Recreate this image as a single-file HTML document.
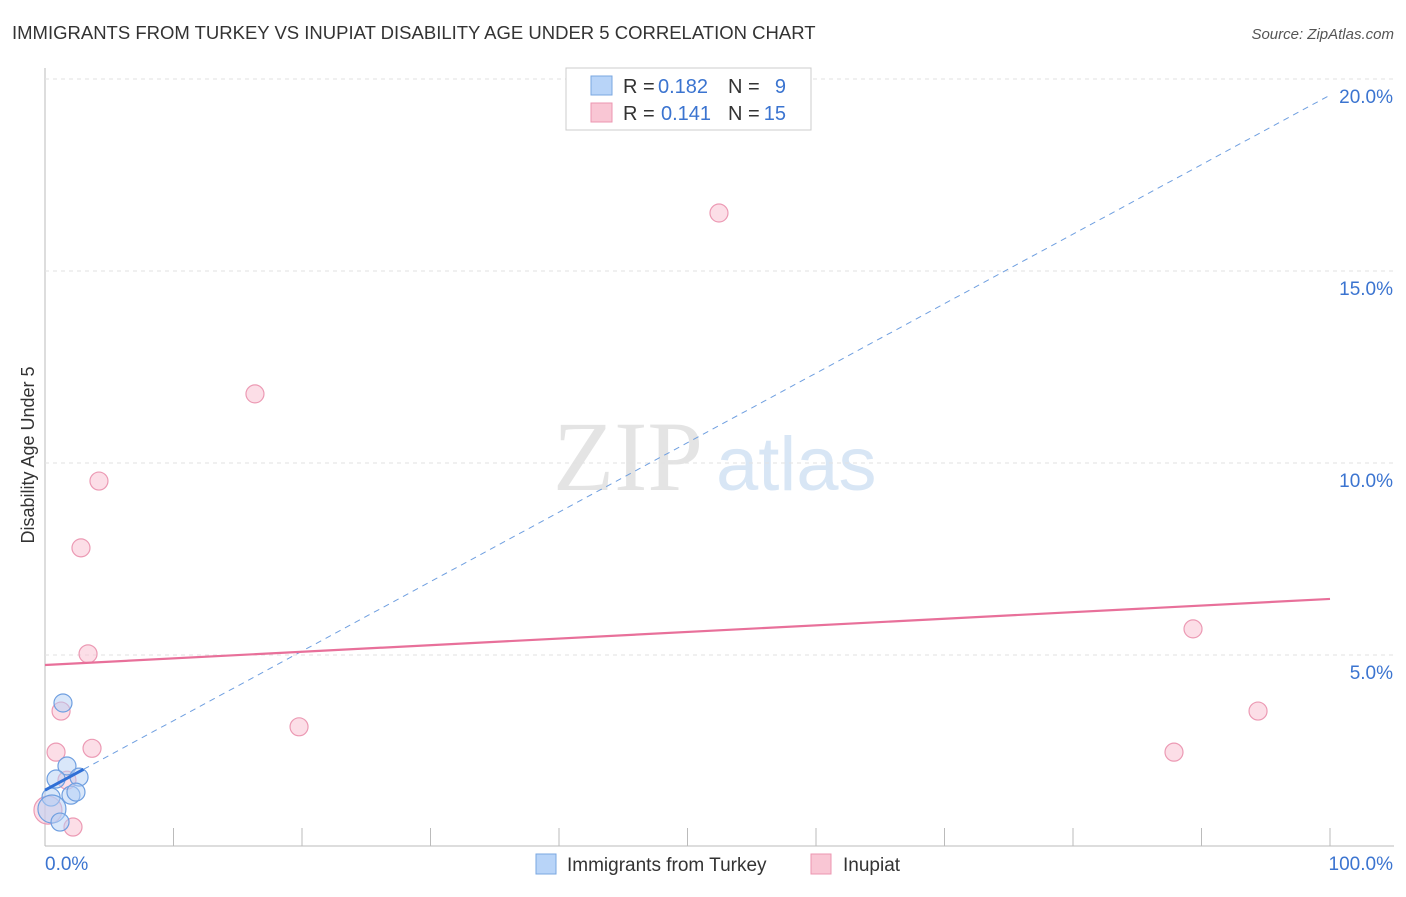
<!DOCTYPE html>
<html><head><meta charset="utf-8"><style>
body{margin:0;background:#fff;font-family:"Liberation Sans",sans-serif}
</style></head><body>
<svg id="c" width="1406" height="892">
<text x="12" y="39" font-size="18.5" fill="#333">IMMIGRANTS FROM TURKEY VS INUPIAT DISABILITY AGE UNDER 5 CORRELATION CHART</text>
<text x="1394" y="39" font-size="15" fill="#555" font-style="italic" text-anchor="end">Source: ZipAtlas.com</text>
<text x="553" y="490" font-size="100" fill="#e4e4e4" font-family="Liberation Serif">ZIP</text>
<text x="716" y="490" font-size="76" fill="#d8e6f5">atlas</text>
<text transform="translate(34,455) rotate(-90)" font-size="18" fill="#333" text-anchor="middle">Disability Age Under 5</text>
<g id="grid"></g><g id="marks"></g>
<g>
<rect x="566" y="68" width="245" height="62" fill="#fff" stroke="#ccc"/>
<rect x="591" y="76" width="21" height="19" fill="#b8d4f8" stroke="#7aa7e0"/>
<rect x="591" y="103" width="21" height="19" fill="#f9c6d4" stroke="#ec96b0"/>
<text x="623" y="93" font-size="20" fill="#333">R =</text>
<text x="658" y="93" font-size="20" fill="#3b74d0">0.182</text>
<text x="728" y="93" font-size="20" fill="#333">N =</text>
<text x="786" y="93" font-size="20" fill="#3b74d0" text-anchor="end">9</text>
<text x="623" y="120" font-size="20" fill="#333">R =</text>
<text x="661" y="120" font-size="20" fill="#3b74d0">0.141</text>
<text x="728" y="120" font-size="20" fill="#333">N =</text>
<text x="786" y="120" font-size="20" fill="#3b74d0" text-anchor="end">15</text>
</g>
<g>
<rect x="536" y="854" width="20" height="20" fill="#b8d4f8" stroke="#7aa7e0"/>
<text x="567" y="871" font-size="19" fill="#333">Immigrants from Turkey</text>
<rect x="811" y="854" width="20" height="20" fill="#f9c6d4" stroke="#ec96b0"/>
<text x="843" y="871" font-size="19" fill="#333">Inupiat</text>
</g>
</svg>
<script>
const yTicks=[5,10,15,20];
const xTickLabels=["0.0%","100.0%"];
const blueX=[1.4,1.71,0.86,2.65,2.02,2.41,0.47,0.54,1.17];
const blueY=[3.75,2.11,1.77,1.82,1.35,1.43,1.30,0.99,0.65];
const blueR=[9,9,9,9,9,9,9,14,9];
const pinkX=[52.45,16.34,4.2,2.8,3.35,1.25,0.86,3.66,19.77,1.71,2.18,89.34,94.4,87.86,0.23];
const pinkY=[16.51,11.8,9.53,7.79,5.03,3.54,2.47,2.57,3.13,1.74,0.52,5.68,3.54,2.47,0.96];
const pinkR=[9,9,9,9,9,9,9,9,9,9,9,9,9,9,14];
const blueTrend=[1.48,19.58];
const pinkTrend=[4.74,6.46];
const sx=v=>45+v*12.85, sy=v=>847-v*38.4;
const NS="http://www.w3.org/2000/svg";
function mk(p,t,a){const e=document.createElementNS(NS,t);for(const k in a)e.setAttribute(k,a[k]);p.appendChild(e);return e;}
const g=document.getElementById('grid'),m=document.getElementById('marks');
let ax=mk(g,'line',{x1:45,y1:68,x2:45,y2:846,stroke:'#bbb'});


let bx=mk(g,'line',{x1:45,y1:846,x2:1394,y2:846,stroke:'#bbb'});


for(let i=1;i<=10;i++){const t=mk(g,'line',{x1:sx(i*10),y1:828,x2:sx(i*10),y2:846,stroke:'#bbb'});

}
yTicks.forEach(v=>{const l=mk(g,'line',{x1:45,y1:sy(v),x2:1394,y2:sy(v),stroke:'#e2e2e2','stroke-dasharray':'4,4'});


const t=mk(g,'text',{x:1393,y:sy(v)+24,'font-size':19,fill:'#3b74d0','text-anchor':'end'});t.textContent=v.toFixed(1)+'%';

});
xTickLabels.forEach((s,i)=>{const t=mk(g,'text',{x:i?1393:45,y:870,'font-size':19,fill:'#3b74d0','text-anchor':i?'end':'start'});t.textContent=s;

});
pinkX.forEach((x,i)=>{const c=mk(m,'circle',{cx:sx(x),cy:sy(pinkY[i]),r:pinkR[i],fill:'rgba(249,190,208,0.5)',stroke:'#ec9ab4','stroke-width':1.2});

});
blueX.forEach((x,i)=>{const c=mk(m,'circle',{cx:sx(x),cy:sy(blueY[i]),r:blueR[i],fill:'rgba(180,208,245,0.5)',stroke:'#6f9fe0','stroke-width':1.2});

});
let d=mk(m,'line',{x1:sx(0),y1:sy(blueTrend[0]),x2:sx(100),y2:sy(blueTrend[1]),stroke:'#6f9fe0','stroke-dasharray':'6,5','stroke-width':1});


const f=v=>blueTrend[0]+(blueTrend[1]-blueTrend[0])*v/100;
let s=mk(m,'line',{x1:sx(0),y1:sy(f(0)),x2:sx(3),y2:sy(f(3)),stroke:'#2f6fd6','stroke-width':3});


let p=mk(m,'line',{x1:sx(0),y1:sy(pinkTrend[0]),x2:sx(100),y2:sy(pinkTrend[1]),stroke:'#e8709a','stroke-width':2.2});


</script>
</body></html>
